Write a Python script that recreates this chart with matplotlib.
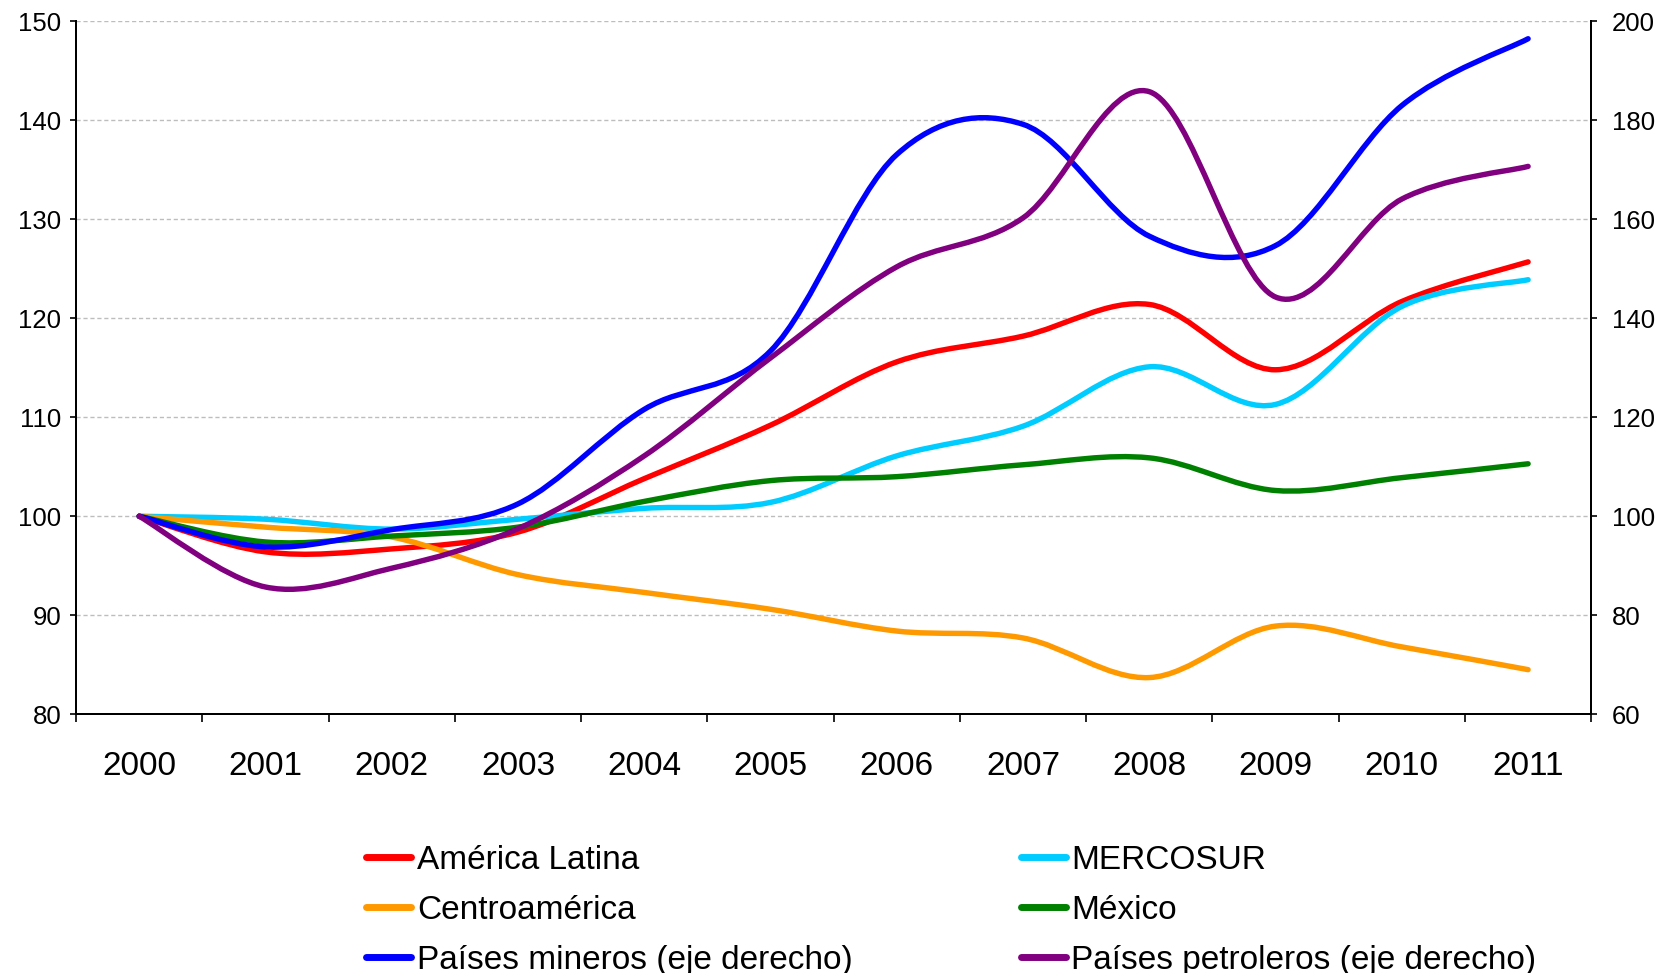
import numpy as np
import matplotlib
matplotlib.use("Agg")
import matplotlib.pyplot as plt
from matplotlib.path import Path
from matplotlib.patches import PathPatch
from matplotlib.lines import Line2D

plt.rcParams['font.family'] = ['Liberation Sans', 'DejaVu Sans']

## DATA (indices, 2000 = 100)
years = ["2000", "2001", "2002", "2003", "2004", "2005",
         "2006", "2007", "2008", "2009", "2010", "2011"]

# left axis
america_latina = [100, 96.4, 96.7, 98.4, 103.8, 109.2, 115.6, 118.2, 121.4, 114.8, 121.7, 125.7]
mercosur       = [100, 99.7, 98.7, 99.7, 100.8, 101.4, 106.1, 109.1, 115.1, 111.3, 121.2, 123.9]
centroamerica  = [100, 98.9, 97.9, 94.1, 92.3, 90.6, 88.4, 87.7, 83.7, 88.9, 86.8, 84.5]
mexico         = [100, 97.4, 98.0, 98.9, 101.5, 103.6, 104.0, 105.2, 105.9, 102.6, 103.9, 105.3]

# right axis
mineros    = [100, 93.8, 97.3, 102.5, 121.6, 133.4, 173.1, 179.2, 156.6, 154.7, 183.0, 196.5]
petroleros = [100, 85.7, 89.5, 97.5, 112.2, 132.0, 150.4, 160.3, 185.8, 144.3, 164.1, 170.7]

labels = ["América Latina", "MERCOSUR", "Centroamérica", "México",
          "Países mineros (eje derecho)", "Países petroleros (eje derecho)"]
colors = ["#FF0000", "#00CCFF", "#FF9900", "#008000", "#0000FF", "#800080"]


def smooth_path(xs, ys):
    # excel-like smoothed line: catmull-rom segments as cubic beziers
    pts = np.column_stack([xs, ys]).astype(float)
    n = len(pts)
    verts = [pts[0]]
    codes = [Path.MOVETO]
    for i in range(n - 1):
        p0 = pts[max(i - 1, 0)]
        p1 = pts[i]
        p2 = pts[i + 1]
        p3 = pts[min(i + 2, n - 1)]
        verts += [p1 + (p2 - p0) / 6.0, p2 - (p3 - p1) / 6.0, p2]
        codes += [Path.CURVE4] * 3
    return Path(verts, codes)


def draw(axis, values, color):
    xs = np.arange(len(values))
    patch = PathPatch(smooth_path(xs, values), fill=False, edgecolor=color,
                      lw=3.9, capstyle='round', joinstyle='round')
    axis.add_patch(patch)


fig = plt.figure(figsize=(16.61, 9.73), dpi=100)
ax = fig.add_axes([0.0458, 0.266, 0.958 - 0.0458, 0.978 - 0.266])
ax2 = ax.twinx()

draw(ax, america_latina, colors[0])
draw(ax, mercosur, colors[1])
draw(ax, centroamerica, colors[2])
draw(ax, mexico, colors[3])
draw(ax2, mineros, colors[4])
draw(ax2, petroleros, colors[5])

ax.set_xlim(-0.5, len(years) - 0.5)
ax.set_ylim(80, 150)
ax2.set_ylim(60, 200)
ax.set_yticks(np.arange(80, 151, 10))
ax2.set_yticks(np.arange(60, 201, 20))

ax.set_xticks(np.arange(len(years)))
ax.set_xticklabels(years, fontsize=24)
ax.set_xticks(np.arange(len(years) + 1) - 0.5, minor=True)
ax.tick_params(axis='x', which='major', length=0, pad=26.5)
ax.tick_params(axis='x', which='minor', length=6, width=1.2, direction='out')
ax.tick_params(axis='y', length=4.6, width=1.2, pad=6, labelsize=18.5)
ax2.tick_params(axis='y', length=4.6, width=1.2, pad=10, labelsize=18.5)

ax.yaxis.grid(True, linestyle=(0, (3, 2)), color='#bdbdbd', lw=1.0)
ax.set_axisbelow(True)

for a in (ax, ax2):
    a.spines['top'].set_visible(False)
    for s in ('left', 'right', 'bottom'):
        a.spines[s].set_linewidth(1.4)

handles = [Line2D([], [], color=c, lw=5, solid_capstyle='round') for c in colors]

leg_kw = dict(loc='upper left', fontsize=24, frameon=False, borderpad=0,
              borderaxespad=0, handlelength=1.35, handletextpad=0.17,
              labelspacing=0.57)
fig.legend([handles[0], handles[2], handles[4]], [labels[0], labels[2], labels[4]],
           bbox_to_anchor=(0.2205, 0.1314), **leg_kw)
fig.legend([handles[1], handles[3], handles[5]], [labels[1], labels[3], labels[5]],
           bbox_to_anchor=(0.6145, 0.1314), **leg_kw)

fig.savefig("out.png", dpi=100)
